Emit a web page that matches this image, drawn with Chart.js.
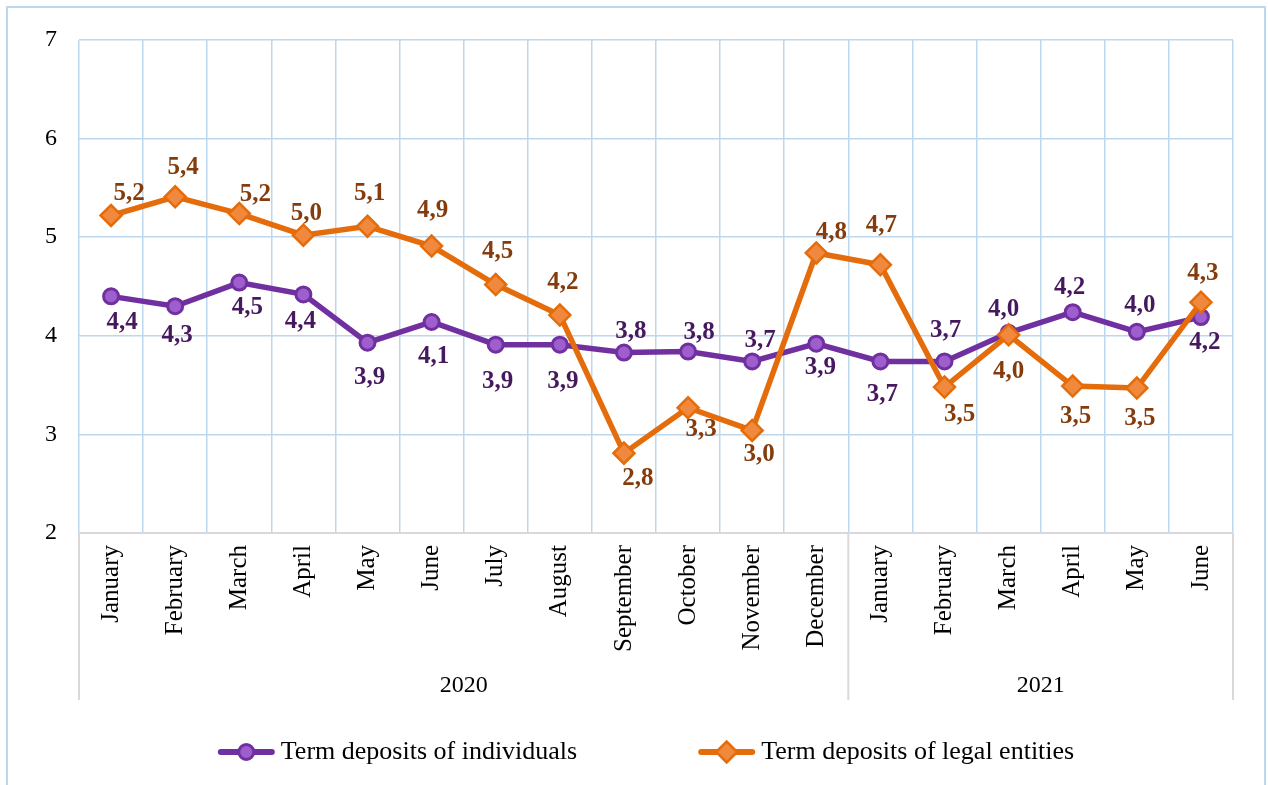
<!DOCTYPE html>
<html>
<head>
<meta charset="utf-8">
<script src="https://cdn.jsdelivr.net/npm/chart.js@4.4.0/dist/chart.umd.min.js"></script>
<style>
html,body{margin:0;padding:0;background:#fff;}
#wrap{width:1268px;height:785px;}
</style>
</head>
<body>
<div id="wrap"><canvas id="myChart" width="1268" height="785"></canvas></div>
<script>
// categories (two levels: month, year)
var months = ['January','February','March','April','May','June','July','August','September','October','November','December',
              'January','February','March','April','May','June'];
var years = ['2020','2021'];
var yearSpans = [12, 6]; // how many months under each year
// series values, %
var individuals = [4.40, 4.30, 4.54, 4.42, 3.93, 4.14, 3.91, 3.91, 3.83, 3.84, 3.74, 3.92, 3.74, 3.74, 4.03, 4.24, 4.04, 4.19];
var legalEntities = [5.22, 5.41, 5.24, 5.02, 5.11, 4.91, 4.52, 4.21, 2.81, 3.27, 3.04, 4.84, 4.72, 3.48, 4.01, 3.49, 3.47, 4.34];
var seriesNames = ['Term deposits of individuals', 'Term deposits of legal entities'];
var yMin = 2, yMax = 7, yStep = 1;

// where each value label sits relative to its point (px)
var labelDx = [
  [11,2,8,-3,2,2,2,3,7,11,8,4,2,1,-5,-3,3,4],
  [18,8,16,3,2,1,2,3,14,13,7,15,1,15,0,3,3,2]
];
var labelDy = [
  [26,29,25,27,35,35,37,37,-21,-19,-21,24,33,-31,-23,-25,-26,25],
  [-22,-29,-19,-22,-33,-36,-33,-33,25,22,24,-20,-39,27,37,30,30,-29]
];

var serif = '"Liberation Serif", "Times New Roman", serif';
var gridBlue = '#BDD7EE';
var axisGray = '#D9D9D9';
var purple = '#7030A0', purpleFill = '#9E5ECE', purpleText = '#46195F';
var orange = '#E46C0A', orangeFill = '#F0893D', orangeText = '#843C0C';

function fmt(v){ //4.4 -> "4,4"
  return (Math.round(v*10)/10).toFixed(1).replace('.', ',');
}

var extras = {
  id: 'extras',
  afterDatasetsDraw: function(chart){
    var ctx = chart.ctx;
    ctx.save();
    ctx.font = 'bold 25px ' + serif;
    ctx.textAlign = 'center';
    ctx.textBaseline = 'middle';
    chart.data.datasets.forEach(function(ds, d){
      var meta = chart.getDatasetMeta(d);
      ctx.fillStyle = ds.labelColor;
      meta.data.forEach(function(pt, i){
        ctx.fillText(fmt(ds.data[i]), pt.x + labelDx[d][i], pt.y + labelDy[d][i]);
      });
    });
    ctx.restore();
  },
  afterDraw: function(chart){
    var ctx = chart.ctx;
    var xs = chart.scales.x;
    ctx.save();
    //year row under the month labels
    var half = (xs.getPixelForTick(1) - xs.getPixelForTick(0)) / 2;
    var bounds = [xs.getPixelForTick(0) - half];
    var idx = 0;
    yearSpans.forEach(function(n){
      idx += n;
      bounds.push(xs.getPixelForTick(idx - 1) + half);
    });
    ctx.strokeStyle = axisGray;
    ctx.lineWidth = 2;
    bounds.forEach(function(b){
      ctx.beginPath();
      ctx.moveTo(b, xs.top);
      ctx.lineTo(b, xs.bottom);
      ctx.stroke();
    });
    ctx.fillStyle = '#000';
    ctx.font = '24px ' + serif;
    ctx.textAlign = 'center';
    ctx.textBaseline = 'middle';
    years.forEach(function(y, i){
      ctx.fillText(y, (bounds[i] + bounds[i+1]) / 2, xs.bottom - 14);
    });

    //legend: line with marker, then text
    ctx.font = '26px ' + serif;
    var lineLen = 57, gapText = 6, gapItems = 121;
    var ly = 752;
    var widths = chart.data.datasets.map(function(ds){ return lineLen + gapText + ctx.measureText(ds.label).width; });
    var total = widths[0] + gapItems + widths[1];
    var x = chart.width / 2 + 12 - total / 2;
    chart.data.datasets.forEach(function(ds, d){
      ctx.strokeStyle = ds.borderColor;
      ctx.lineWidth = 6;
      ctx.lineCap = 'round';
      ctx.beginPath();
      ctx.moveTo(x + 3, ly);
      ctx.lineTo(x + lineLen - 3, ly);
      ctx.stroke();
      ctx.fillStyle = ds.pointBackgroundColor;
      ctx.strokeStyle = ds.pointBorderColor;
      ctx.lineWidth = ds.pointBorderWidth;
      Chart.helpers.drawPoint(ctx, {pointStyle: ds.pointStyle, radius: ds.pointRadius, rotation: 0, borderWidth: ds.pointBorderWidth}, x + lineLen / 2, ly);
      ctx.fillStyle = '#000';
      ctx.textAlign = 'left';
      ctx.fillText(ds.label, x + lineLen + gapText, ly);
      x += widths[d] + gapItems;
    });

    //outer frame, open at the bottom
    ctx.strokeStyle = gridBlue;
    ctx.lineWidth = 2;
    ctx.beginPath();
    ctx.moveTo(7, chart.height);
    ctx.lineTo(7, 7);
    ctx.lineTo(1265, 7);
    ctx.lineTo(1265, chart.height);
    ctx.stroke();
    ctx.restore();
  }
};

var ctx = document.getElementById('myChart').getContext('2d');
var myChart = new Chart(ctx, {
  type: 'line',
  data: {
    labels: months,
    datasets: [{
      label: seriesNames[0],
      data: individuals,
      borderColor: purple,
      borderWidth: 5.5,
      pointStyle: 'circle',
      pointRadius: 7.5,
      pointBackgroundColor: purpleFill,
      pointBorderColor: purple,
      pointBorderWidth: 3,
      labelColor: purpleText,
      tension: 0,
      order: 2
    }, {
      label: seriesNames[1],
      data: legalEntities,
      borderColor: orange,
      borderWidth: 5.5,
      pointStyle: 'rectRot',
      pointRadius: 10.5,
      pointBackgroundColor: orangeFill,
      pointBorderColor: orange,
      pointBorderWidth: 2.5,
      labelColor: orangeText,
      tension: 0,
      order: 1
    }]
  },
  options: {
    responsive: false,
    animation: false,
    events: [],
    layout: { padding: { top: 40, right: 35, bottom: 85, left: 0 } },
    plugins: {
      legend: { display: false },
      tooltip: { enabled: false }
    },
    scales: {
      x: {
        offset: true,
        grid: { offset: true, color: gridBlue, lineWidth: 1.5, drawTicks: false },
        border: { color: axisGray, width: 2 },
        ticks: { autoSkip: false, minRotation: 90, maxRotation: 90, padding: 12, color: '#000', font: { family: serif, size: 25 } },
        afterFit: function(s){ s.height = 167; }
      },
      y: {
        min: yMin,
        max: yMax,
        grid: {
          color: function(c){ return c.tick && c.tick.value === yMin ? 'rgba(0,0,0,0)' : gridBlue; },
          lineWidth: 1.5,
          drawTicks: false
        },
        border: { display: false },
        ticks: { stepSize: yStep, padding: 22, color: '#000', font: { family: serif, size: 24 } },
        afterFit: function(s){ s.width = 79; }
      }
    }
  },
  plugins: [extras]
});
</script>
</body>
</html>
